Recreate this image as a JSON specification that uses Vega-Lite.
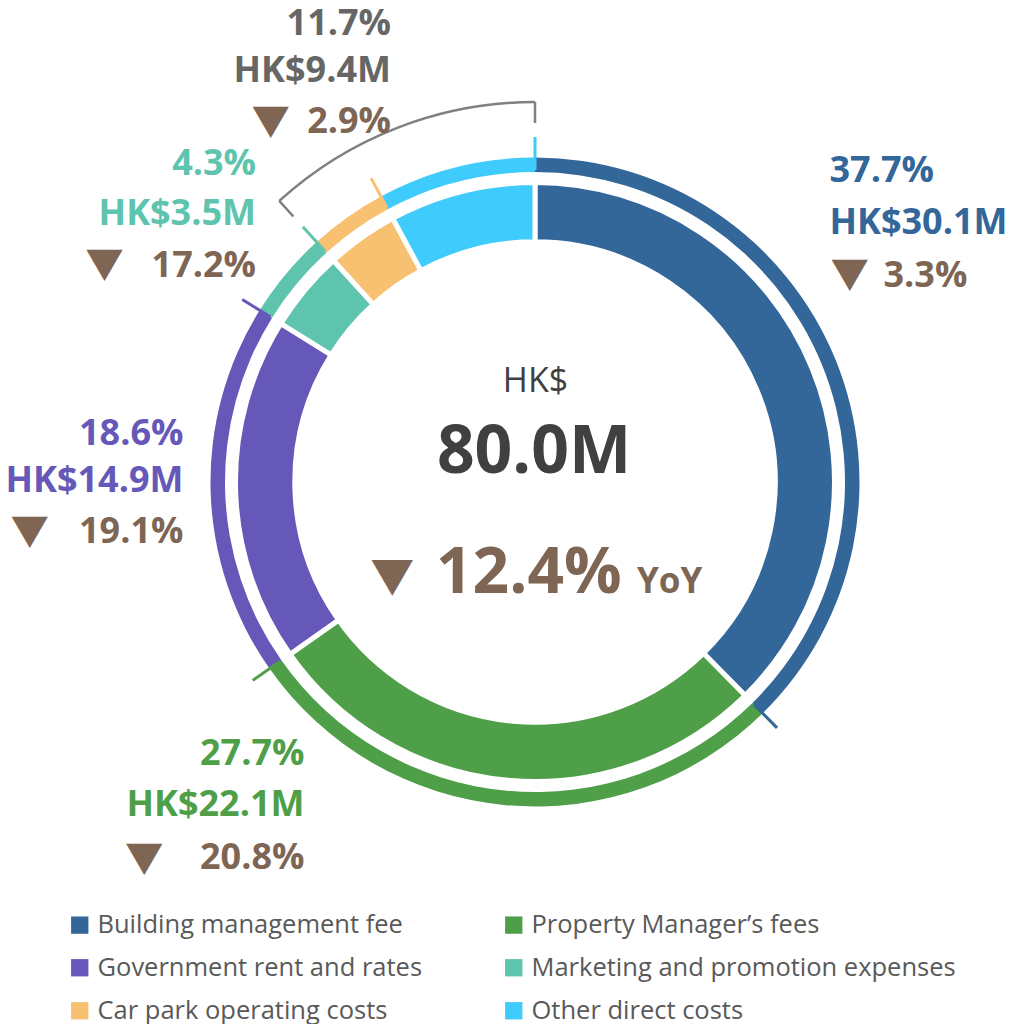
{
  "$schema": "https://vega.github.io/schema/vega-lite/v6.json",
  "width": 900,
  "height": 900,
  "autosize": {"type": "none"},
  "padding": {"left": 85, "top": 32, "right": 31, "bottom": 92},
  "background": "white",
  "config": {"view": {"stroke": null}},
  "datasets": {
    "costs": [
      {"category": "Building management fee", "value": 30.1, "share": "37.7%", "amount": "HK$30.1M", "direction": "▼", "change": "3.3%"},
      {"category": "Property Manager’s fees", "value": 22.1, "share": "27.7%", "amount": "HK$22.1M", "direction": "▼", "change": "20.8%"},
      {"category": "Government rent and rates", "value": 14.9, "share": "18.6%", "amount": "HK$14.9M", "direction": "▼", "change": "19.1%"},
      {"category": "Marketing and promotion expenses", "value": 3.5, "share": "4.3%", "amount": "HK$3.5M", "direction": "▼", "change": "17.2%"},
      {"category": "Car park operating costs", "value": 3.1},
      {"category": "Other direct costs", "value": 6.3}
    ],
    "combined": [
      {"group": "Car park operating costs + Other direct costs", "share": "11.7%", "amount": "HK$9.4M", "direction": "▼", "change": "2.9%"}
    ],
    "total": [
      {"currency": "HK$", "total": "80.0M", "direction": "▼", "change": "12.4%", "period": "YoY"}
    ]
  },
  "data": {"name": "costs"},
  "transform": [{"stack": "value", "groupby": [], "as": ["v0", "v1"]}],
  "layer": [
    {
      "mark": {"type": "arc", "radius": 324.5, "radius2": 310},
      "encoding": {
        "theta": {"field": "v0", "type": "quantitative", "stack": null},
        "theta2": {"field": "v1"},
        "color": {
          "field": "category",
          "type": "nominal",
          "scale": {
            "domain": ["Building management fee", "Property Manager’s fees", "Government rent and rates", "Marketing and promotion expenses", "Car park operating costs", "Other direct costs"],
            "range": ["#336699", "#4E9F48", "#6658B8", "#5EC4AE", "#F8C171", "#40CBFD"]
          },
          "legend": {
            "orient": "none",
            "direction": "horizontal",
            "legendX": -18,
            "legendY": 880,
            "columns": 2,
            "title": null,
            "symbolType": "square",
            "symbolSize": 300,
            "symbolStrokeWidth": 0,
            "labelFont": "Open Sans",
            "labelFontSize": 25.5,
            "labelColor": "#595959",
            "labelOffset": 5,
            "labelLimit": 600,
            "columnPadding": 78,
            "rowPadding": 16,
            "padding": 0
          }
        }
      }
    },
    {
      "mark": {"type": "arc", "filled": false, "strokeWidth": 3, "radius": 345, "radius2": 312},
      "encoding": {
        "theta": {"field": "v1", "type": "quantitative", "stack": null},
        "theta2": {"field": "v1"},
        "color": {"field": "category", "type": "nominal"}
      }
    },
    {
      "mark": {"type": "arc", "radius": 299.5, "radius2": 240.2, "stroke": "white", "strokeWidth": 5},
      "encoding": {
        "theta": {"field": "v0", "type": "quantitative", "stack": null},
        "theta2": {"field": "v1"},
        "color": {"field": "category", "type": "nominal"}
      }
    },
    {
      "transform": [
        {"filter": {"field": "category", "oneOf": ["Car park operating costs", "Other direct costs"]}},
        {"aggregate": [{"op": "min", "field": "v0", "as": "b0"}, {"op": "max", "field": "v1", "as": "b1"}]}
      ],
      "mark": {"type": "arc", "filled": false, "stroke": "#808080", "strokeWidth": 2.5, "radius": 380, "radius2": 380},
      "encoding": {
        "theta": {"field": "b0", "type": "quantitative", "stack": null},
        "theta2": {"field": "b1"}
      }
    },
    {
      "transform": [
        {"filter": {"field": "category", "oneOf": ["Car park operating costs", "Other direct costs"]}},
        {"aggregate": [{"op": "min", "field": "v0", "as": "b0"}, {"op": "max", "field": "v1", "as": "b1"}]},
        {"fold": ["b0", "b1"], "as": ["end", "angle"]}
      ],
      "mark": {"type": "arc", "filled": false, "stroke": "#808080", "strokeWidth": 2.5, "radius": 380, "radius2": 359},
      "encoding": {
        "theta": {"field": "angle", "type": "quantitative", "stack": null},
        "theta2": {"field": "angle"}
      }
    },
    {
      "transform": [{"filter": {"field": "category", "equal": "Building management fee"}}],
      "mark": {"type": "text", "radius": 345, "align": "left", "baseline": "alphabetic", "dx": 294.5, "dy": 44.7, "font": "Open Sans", "fontSize": 36, "fontWeight": "bold"},
      "encoding": {"theta": {"field": "v0", "type": "quantitative", "stack": null}, "text": {"field": "share"}, "color": {"field": "category", "type": "nominal"}}
    },
    {
      "transform": [{"filter": {"field": "category", "equal": "Building management fee"}}],
      "mark": {"type": "text", "radius": 345, "align": "left", "baseline": "alphabetic", "dx": 294.5, "dy": 97.3, "font": "Open Sans", "fontSize": 36, "fontWeight": "bold"},
      "encoding": {"theta": {"field": "v0", "type": "quantitative", "stack": null}, "text": {"field": "amount"}, "color": {"field": "category", "type": "nominal"}}
    },
    {
      "transform": [{"filter": {"field": "category", "equal": "Building management fee"}}],
      "mark": {"type": "text", "radius": 345, "align": "left", "baseline": "alphabetic", "dx": 348.5, "dy": 149.7, "font": "Open Sans", "fontSize": 36, "fontWeight": "bold", "color": "#7E6554"},
      "encoding": {"theta": {"field": "v0", "type": "quantitative", "stack": null}, "text": {"field": "change"}}
    },
    {
      "transform": [{"filter": {"field": "category", "equal": "Building management fee"}}],
      "mark": {"type": "text", "radius": 345, "align": "center", "baseline": "alphabetic", "dx": 314.7, "dy": 151, "font": "Noto Sans CJK JP", "fontSize": 38.5, "color": "#7E6554"},
      "encoding": {"theta": {"field": "v0", "type": "quantitative", "stack": null}, "text": {"field": "direction"}}
    },
    {
      "transform": [{"filter": {"field": "category", "equal": "Property Manager’s fees"}}],
      "mark": {"type": "text", "radius": 345, "align": "right", "baseline": "alphabetic", "dx": 51.7, "dy": 84.6, "font": "Open Sans", "fontSize": 36, "fontWeight": "bold"},
      "encoding": {"theta": {"field": "v1", "type": "quantitative", "stack": null}, "text": {"field": "share"}, "color": {"field": "category", "type": "nominal"}}
    },
    {
      "transform": [{"filter": {"field": "category", "equal": "Property Manager’s fees"}}],
      "mark": {"type": "text", "radius": 345, "align": "right", "baseline": "alphabetic", "dx": 51.7, "dy": 135.6, "font": "Open Sans", "fontSize": 36, "fontWeight": "bold"},
      "encoding": {"theta": {"field": "v1", "type": "quantitative", "stack": null}, "text": {"field": "amount"}, "color": {"field": "category", "type": "nominal"}}
    },
    {
      "transform": [{"filter": {"field": "category", "equal": "Property Manager’s fees"}}],
      "mark": {"type": "text", "radius": 345, "align": "right", "baseline": "alphabetic", "dx": 51.7, "dy": 189, "font": "Open Sans", "fontSize": 36, "fontWeight": "bold", "color": "#7E6554"},
      "encoding": {"theta": {"field": "v1", "type": "quantitative", "stack": null}, "text": {"field": "change"}}
    },
    {
      "transform": [{"filter": {"field": "category", "equal": "Property Manager’s fees"}}],
      "mark": {"type": "text", "radius": 345, "align": "center", "baseline": "alphabetic", "dx": -108.6, "dy": 191.5, "font": "Noto Sans CJK JP", "fontSize": 38.5, "color": "#7E6554"},
      "encoding": {"theta": {"field": "v1", "type": "quantitative", "stack": null}, "text": {"field": "direction"}}
    },
    {
      "transform": [{"filter": {"field": "category", "equal": "Government rent and rates"}}],
      "mark": {"type": "text", "radius": 345, "align": "right", "baseline": "alphabetic", "dx": -58.8, "dy": 145.6, "font": "Open Sans", "fontSize": 36, "fontWeight": "bold"},
      "encoding": {"theta": {"field": "v1", "type": "quantitative", "stack": null}, "text": {"field": "share"}, "color": {"field": "category", "type": "nominal"}}
    },
    {
      "transform": [{"filter": {"field": "category", "equal": "Government rent and rates"}}],
      "mark": {"type": "text", "radius": 345, "align": "right", "baseline": "alphabetic", "dx": -58.8, "dy": 192.3, "font": "Open Sans", "fontSize": 36, "fontWeight": "bold"},
      "encoding": {"theta": {"field": "v1", "type": "quantitative", "stack": null}, "text": {"field": "amount"}, "color": {"field": "category", "type": "nominal"}}
    },
    {
      "transform": [{"filter": {"field": "category", "equal": "Government rent and rates"}}],
      "mark": {"type": "text", "radius": 345, "align": "right", "baseline": "alphabetic", "dx": -58.8, "dy": 243.9, "font": "Open Sans", "fontSize": 36, "fontWeight": "bold", "color": "#7E6554"},
      "encoding": {"theta": {"field": "v1", "type": "quantitative", "stack": null}, "text": {"field": "change"}}
    },
    {
      "transform": [{"filter": {"field": "category", "equal": "Government rent and rates"}}],
      "mark": {"type": "text", "radius": 345, "align": "center", "baseline": "alphabetic", "dx": -212.6, "dy": 245.6, "font": "Noto Sans CJK JP", "fontSize": 38.5, "color": "#7E6554"},
      "encoding": {"theta": {"field": "v1", "type": "quantitative", "stack": null}, "text": {"field": "direction"}}
    },
    {
      "transform": [{"filter": {"field": "category", "equal": "Marketing and promotion expenses"}}],
      "mark": {"type": "text", "radius": 345, "align": "right", "baseline": "alphabetic", "dx": -46.8, "dy": -51.8, "font": "Open Sans", "fontSize": 36, "fontWeight": "bold"},
      "encoding": {"theta": {"field": "v1", "type": "quantitative", "stack": null}, "text": {"field": "share"}, "color": {"field": "category", "type": "nominal"}}
    },
    {
      "transform": [{"filter": {"field": "category", "equal": "Marketing and promotion expenses"}}],
      "mark": {"type": "text", "radius": 345, "align": "right", "baseline": "alphabetic", "dx": -46.8, "dy": -1.8, "font": "Open Sans", "fontSize": 36, "fontWeight": "bold"},
      "encoding": {"theta": {"field": "v1", "type": "quantitative", "stack": null}, "text": {"field": "amount"}, "color": {"field": "category", "type": "nominal"}}
    },
    {
      "transform": [{"filter": {"field": "category", "equal": "Marketing and promotion expenses"}}],
      "mark": {"type": "text", "radius": 345, "align": "right", "baseline": "alphabetic", "dx": -46.8, "dy": 49.9, "font": "Open Sans", "fontSize": 36, "fontWeight": "bold", "color": "#7E6554"},
      "encoding": {"theta": {"field": "v1", "type": "quantitative", "stack": null}, "text": {"field": "change"}}
    },
    {
      "transform": [{"filter": {"field": "category", "equal": "Marketing and promotion expenses"}}],
      "mark": {"type": "text", "radius": 345, "align": "center", "baseline": "alphabetic", "dx": -198.3, "dy": 51.2, "font": "Noto Sans CJK JP", "fontSize": 38.5, "color": "#7E6554"},
      "encoding": {"theta": {"field": "v1", "type": "quantitative", "stack": null}, "text": {"field": "direction"}}
    },
    {
      "data": {"name": "combined"},
      "mark": {"type": "text", "align": "right", "baseline": "alphabetic", "dx": -144, "dy": -447.5, "font": "Open Sans", "fontSize": 36, "fontWeight": "bold", "color": "#666666"},
      "encoding": {"text": {"field": "share"}}
    },
    {
      "data": {"name": "combined"},
      "mark": {"type": "text", "align": "right", "baseline": "alphabetic", "dx": -144, "dy": -400.3, "font": "Open Sans", "fontSize": 36, "fontWeight": "bold", "color": "#666666"},
      "encoding": {"text": {"field": "amount"}}
    },
    {
      "data": {"name": "combined"},
      "mark": {"type": "text", "align": "right", "baseline": "alphabetic", "dx": -144, "dy": -349, "font": "Open Sans", "fontSize": 36, "fontWeight": "bold", "color": "#7E6554"},
      "encoding": {"text": {"field": "change"}}
    },
    {
      "data": {"name": "combined"},
      "mark": {"type": "text", "align": "center", "baseline": "alphabetic", "dx": -264.2, "dy": -347, "font": "Noto Sans CJK JP", "fontSize": 38.5, "color": "#7E6554"},
      "encoding": {"text": {"field": "direction"}}
    },
    {
      "data": {"name": "total"},
      "mark": {"type": "text", "align": "center", "baseline": "alphabetic", "dx": 0.5, "dy": -90.3, "font": "Open Sans", "fontSize": 34, "color": "#404040"},
      "encoding": {"text": {"field": "currency"}}
    },
    {
      "data": {"name": "total"},
      "mark": {"type": "text", "align": "center", "baseline": "alphabetic", "dx": -1, "dy": -9, "font": "Open Sans", "fontSize": 66, "fontWeight": "bold", "color": "#404040"},
      "encoding": {"text": {"field": "total"}}
    },
    {
      "data": {"name": "total"},
      "mark": {"type": "text", "align": "center", "baseline": "alphabetic", "dx": -142.8, "dy": 111, "font": "Noto Sans CJK JP", "fontSize": 44, "color": "#7E6554"},
      "encoding": {"text": {"field": "direction"}}
    },
    {
      "data": {"name": "total"},
      "mark": {"type": "text", "align": "left", "baseline": "alphabetic", "dx": -99, "dy": 111, "font": "Open Sans", "fontSize": 64, "fontWeight": "bold", "color": "#7E6554"},
      "encoding": {"text": {"field": "change"}}
    },
    {
      "data": {"name": "total"},
      "mark": {"type": "text", "align": "left", "baseline": "alphabetic", "dx": 102, "dy": 111, "font": "Open Sans", "fontSize": 35, "fontWeight": "bold", "color": "#7E6554"},
      "encoding": {"text": {"field": "period"}}
    }
  ]
}
